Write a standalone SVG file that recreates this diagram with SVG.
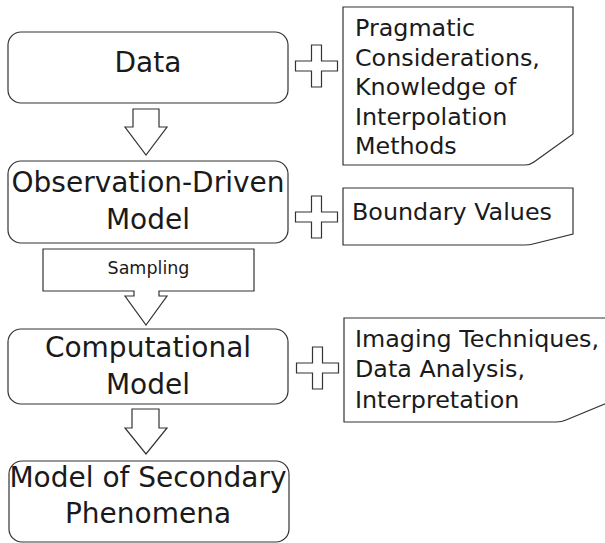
<svg xmlns="http://www.w3.org/2000/svg" width="605" height="543" viewBox="0 0 605 543">
<style>
.box{fill:#fff;stroke:#333;stroke-width:1.2}
.shape{fill:#fff;stroke:#333;stroke-width:1.2;stroke-linejoin:miter}
.t{font-family:"DejaVu Sans",Verdana,sans-serif;fill:#1a1a1a}
.big{font-size:28px;text-anchor:middle}
.note{font-size:23.8px}
.small{font-size:17.5px;text-anchor:middle}
</style>
<defs>
<path id="plus" d="M-5,-21 H5 V-5 H21 V5 H5 V21 H-5 V5 H-21 V-5 H-5 Z"/>
</defs>
<rect width="605" height="543" fill="#fff"/>
<g id="connectors">
<path class="shape" d="M133,109 H159 V127 H167 L146,155 L125,127 H133 Z"/>
<g id="sampling">
<path class="shape" d="M43,249 H254 V291 H159 V296 H167 L146,325 L125,296 H134 V291 H43 Z"/>
<text class="t small" x="148.5" y="274">Sampling</text>
</g>
<path class="shape" d="M132,409 H159 V428 H167 L146,454 L125,428 H132 Z"/>
<use href="#plus" class="shape" x="316.5" y="66"/>
<use href="#plus" class="shape" x="316.5" y="217"/>
<use href="#plus" class="shape" x="317.5" y="368"/>
</g>
<g id="data">
<rect class="box" x="8" y="32" width="280" height="71" rx="13"/>
<text class="t big" x="148" y="72">Data</text>
</g>
<g id="observation">
<rect class="box" x="8" y="161" width="280" height="82" rx="13"/>
<text class="t big" x="148" y="192">Observation-Driven</text>
<text class="t big" x="148" y="229">Model</text>
</g>
<g id="computational">
<rect class="box" x="8" y="329" width="280" height="75" rx="13"/>
<text class="t big" x="148" y="357">Computational</text>
<text class="t big" x="148" y="394">Model</text>
</g>
<g id="secondary">
<rect class="box" x="9" y="461" width="280" height="81" rx="13"/>
<text class="t big" x="148" y="487">Model of Secondary</text>
<text class="t big" x="148" y="523">Phenomena</text>
</g>
<g id="note1">
<path class="shape" d="M343,7 H573 V134 L534,162 Q530,165 525,165 H343 Z"/>
<text class="t note" x="355" y="36">Pragmatic</text>
<text class="t note" x="355" y="66">Considerations,</text>
<text class="t note" x="355" y="95">Knowledge of</text>
<text class="t note" x="355" y="125">Interpolation</text>
<text class="t note" x="355" y="154">Methods</text>
</g>
<g id="note2">
<path class="shape" d="M343,188 H573 V234 L533,244 Q530,245 525,245 H343 Z"/>
<text class="t note" x="352" y="220">Boundary Values</text>
</g>
<g id="note3">
<path class="shape" d="M344,318 H612 V401 L566,420 Q562,422 556,422 H344 Z"/>
<text class="t note" x="355" y="347">Imaging Techniques,</text>
<text class="t note" x="355" y="377">Data Analysis,</text>
<text class="t note" x="355" y="408">Interpretation</text>
</g>
</svg>
